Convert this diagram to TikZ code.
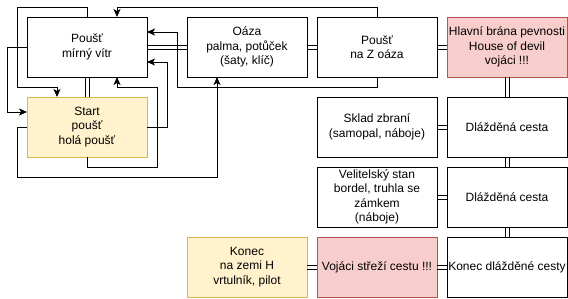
\documentclass[tikz,border=0pt]{standalone}
\usepackage{fontspec}
\setmainfont{Liberation Sans}
\usetikzlibrary{arrows.meta,calc}
\definecolor{yfill}{HTML}{FFF2CC}
\definecolor{ydraw}{HTML}{D6B656}
\definecolor{rfill}{HTML}{F8CECC}
\definecolor{rdraw}{HTML}{B85450}
\tikzset{
  box/.style={draw=black, line width=0.9pt, fill=white, rectangle, minimum width=120pt, minimum height=60pt,
    inner sep=1pt, outer sep=0pt, align=center, font=\fontsize{12}{14.4}\selectfont},
  ybox/.style={box, draw=ydraw, fill=yfill},
  rbox/.style={box, draw=rdraw, fill=rfill},
  lnk/.style={draw=black, line width=0.9pt},
  arr/.style={draw=black, line width=0.9pt, -{Stealth[length=8pt,width=7pt,inset=2pt]}},
}
\begin{document}
\begin{tikzpicture}[x=1pt,y=-1pt]
\useasboundingbox (0,0) rectangle (568,298);
% nodes
\node[box]  (pm) at (87,47)  {Poušť\\mírný vítr};
\node[ybox] (st) at (87,127) {Start\\poušť\\holá poušť};
\node[box]  (oa) at (247,47) {Oáza\\palma, potůček\\(šaty, klíč)};
\node[box]  (pz) at (377,47) {Poušť\\na Z oáza};
\node[rbox] (hb) at (507,47) {Hlavní brána pevnosti\\House of devil\\vojáci !!!};
\node[box]  (sk) at (377,127) {Sklad zbraní\\(samopal, náboje)};
\node[box]  (d1) at (507,127) {Dlážděná cesta};
\node[box]  (vs) at (377,197) {Velitelský stan\\bordel, truhla se\\zámkem\\(náboje)};
\node[box]  (d2) at (507,197) {Dlážděná cesta};
\node[rbox] (vo) at (377,267) {Vojáci střeží cestu !!!};
\node[box]  (kd) at (507,267) {Konec dlážděné cesty};
\node[ybox] (ko) at (247,267) {Konec\\na zemi H\\vrtulník, pilot};
% double links (vertical)
\foreach \a/\b in {pm/st, hb/d1, d1/d2, d2/kd}{
  \draw[lnk] ([xshift=-2pt]\a.south) -- ([xshift=-2pt]\b.north);
  \draw[lnk] ([xshift=2pt]\a.south) -- ([xshift=2pt]\b.north);
}
% double links (horizontal)
\foreach \a/\b in {pm/oa, oa/pz, pz/hb, sk/d1, vs/d2, vo/kd, ko/vo}{
  \draw[lnk] ([yshift=-2pt]\a.east) -- ([yshift=-2pt]\b.west);
  \draw[lnk] ([yshift=2pt]\a.east) -- ([yshift=2pt]\b.west);
}
% arrows
\draw[arr] (pm.north) |- (17,7) |- (57,87) -- ($(st.north west)!0.25!(st.north east)$);
\draw[arr] (pm.west) -- (7,47) |- ($(st.west)+(0,-15)$);
\draw[arr] (st.south) -- (87,167) -| (157,87) -| ($(pm.south)+(30,0)$);
\draw[arr] (st.east) -- (167,127) |- ($(pm.east)+(0,15)$);
\draw[arr] (st.west) -- (17,127) |- (217,177) -- ($(oa.south)+(-30,0)$);
\draw[arr] (pz.north) -- (377,7) -| ($(pm.north)+(30,0)$);
\draw[arr] (pz.south) |- (177,87) |- ($(pm.east)+(0,-15)$);
\end{tikzpicture}
\end{document}
